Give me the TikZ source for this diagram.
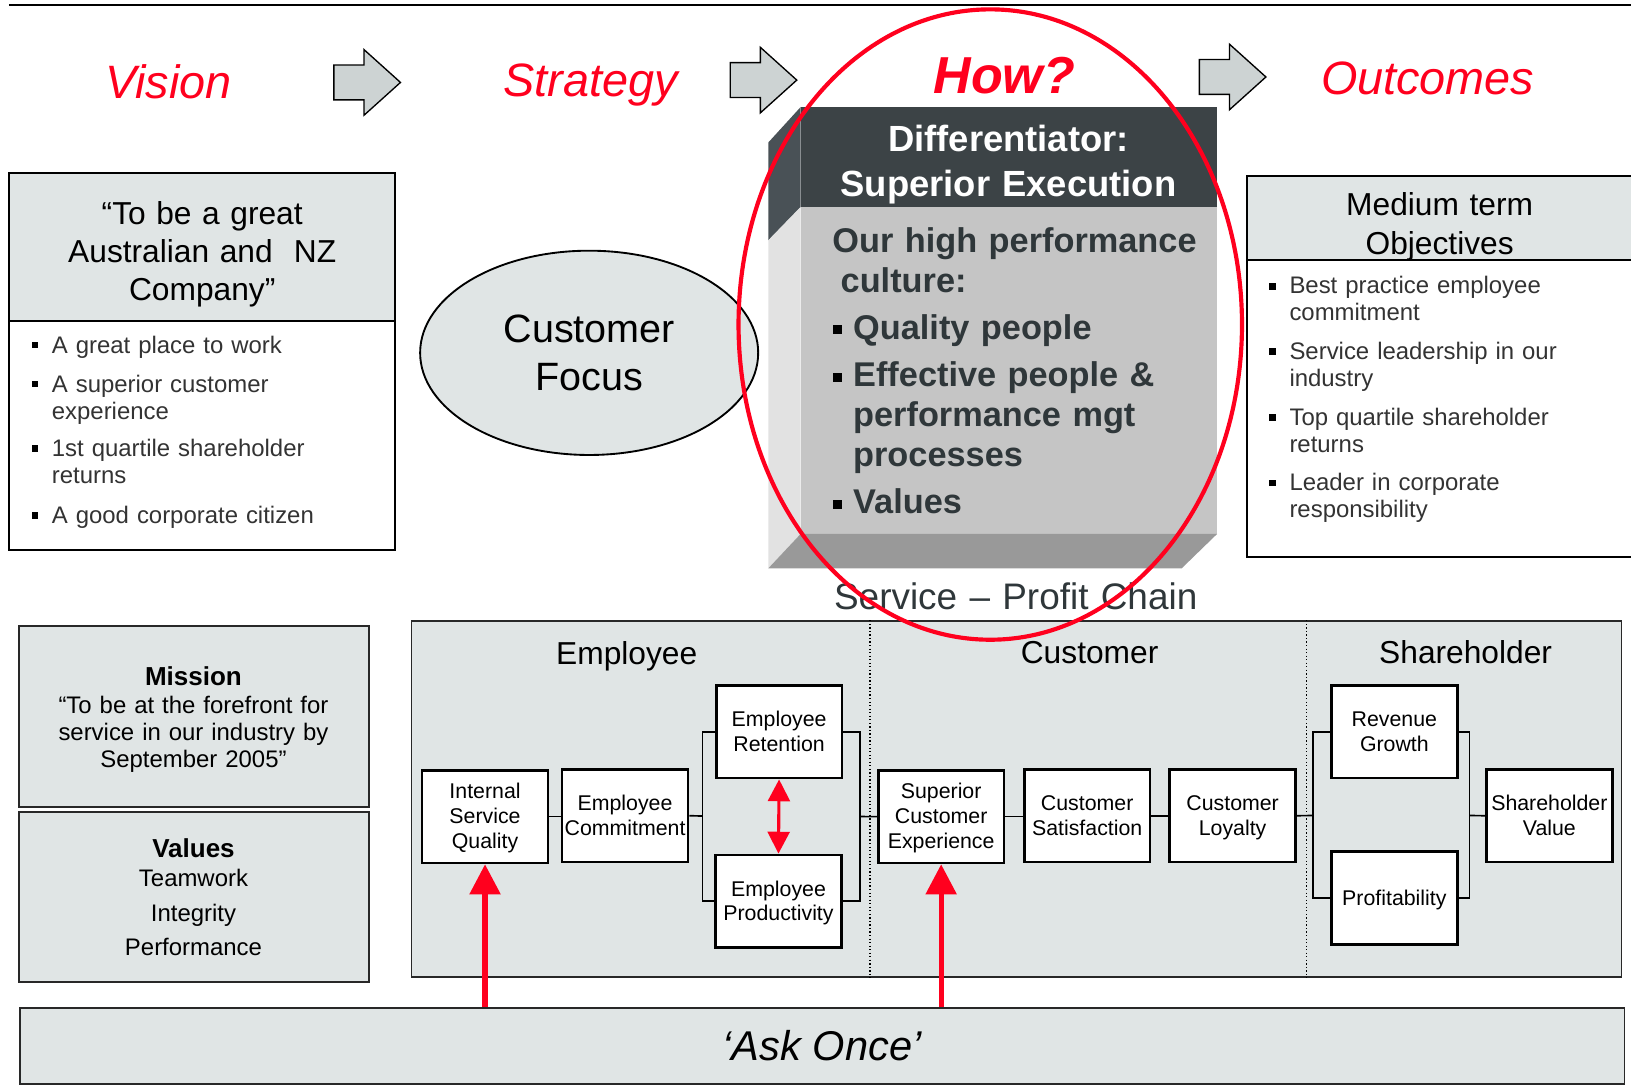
\documentclass[tikz,border=0pt]{standalone}
\usepackage{fontspec}
\setmainfont{Liberation Sans}
\usetikzlibrary{arrows.meta,shapes.geometric}

\definecolor{panel}{RGB}{224,229,229}
\definecolor{arrowfill}{RGB}{205,211,211}
\definecolor{alert}{RGB}{255,0,30}
\definecolor{slate}{RGB}{60,67,70}
\definecolor{slateside}{RGB}{73,81,86}
\definecolor{facefront}{RGB}{197,197,197}
\definecolor{faceside}{RGB}{226,226,226}
\definecolor{facebottom}{RGB}{153,153,153}
\definecolor{inktext}{RGB}{47,55,58}
\definecolor{bodytext}{RGB}{51,51,51}
\definecolor{frame}{RGB}{40,40,40}

\newcommand\fsz[2]{\fontsize{#1}{#2}\selectfont}
% square list bullet: x, baseline, size, gap above baseline
\newcommand\bul[4]{\fill (#1,#2-#4-#3) rectangle ++(#3,#3);}

\tikzset{
  x=1pt, y=-1pt,
  heading/.style={font=\fsz{45}{54}\itshape, text=alert, inner sep=0pt, anchor=base},
  txt/.style={inner sep=0pt, anchor=base, align=center, text width=#1},
  ltxt/.style={inner sep=0pt, anchor=base west, align=left, text width=#1},
  panelbox/.style={draw=frame, line width=1.8pt, fill=panel, inner sep=0pt},
  whitebox/.style={draw=black, line width=1.8pt, fill=white, inner sep=0pt},
  chainbox/.style={draw=black, line width=2.6pt, fill=white, inner sep=0pt,
    minimum width=121pt, minimum height=89pt, text width=119pt, align=center,
    font=\fsz{20.5}{24},
    execute at begin node={\rule{0pt}{19pt}},
    execute at end node={\rule[-5pt]{0pt}{5pt}}},
  link/.style={line width=1.6pt, draw=black},
  itemtext/.style={ltxt=330pt, font=\fsz{23}{26}, text=bodytext},
  bigtip/.style={-{Triangle[length=29pt,width=29pt]}},
  smalltip/.style={{Triangle[length=21pt,width=21pt]}-{Triangle[length=21pt,width=21pt]}},
  blockarrow/.pic={
    \draw[line width=1.3pt, fill=arrowfill, line join=miter]
      (0,-16.75) -- (29,-16.75) -- (29,-31.5) -- (64,0) -- (29,31.5)
      -- (29,16.75) -- (0,16.75) -- cycle;
  }
}

\begin{document}
\begin{tikzpicture}
\useasboundingbox (0,0) rectangle (1568,1044);

% top rule
\draw[line width=2.5pt] (8.5,4.8) -- (1568,4.8);

% headings and block arrows
\node[heading] (vision) at (162,94.5) {Vision};
\node[heading] (strategy) at (568,93) {Strategy};
\node[heading, font=\fsz{50}{60}\bfseries\itshape] (how) at (965.5,89.7) {How?};
\node[heading] (outcomes) at (1372.5,91.3) {Outcomes};
\pic at (321,79.25) {blockarrow};
\pic at (702,77) {blockarrow};
\pic at (1153,74) {blockarrow};

% vision box
\node[whitebox, minimum width=370.8pt, minimum height=220.2pt] (visionbody) at (194.4,418.7) {};
\node[panelbox, draw=black, minimum width=370.8pt, minimum height=142.6pt] (visionhead) at (194.4,237.3) {};
\node[txt=360pt, font=\fsz{30.5}{36.5}] (visiontxt) at (194.4,215.5)
  {“To be a great\\Australian and~~NZ\\Company”};
\node[itemtext] (v1) at (49.7,339.5) {A great place to work};
\node[itemtext] (v2) at (49.7,377) {A superior customer\\experience};
\node[itemtext] (v3) at (49.7,439) {1st quartile shareholder\\returns};
\node[itemtext] (v4) at (49.7,503) {A good corporate citizen};
\bul{30.5}{339.5}{6.5}{4.5}
\bul{30.5}{377}{6.5}{4.5}
\bul{30.5}{439}{6.5}{4.5}
\bul{30.5}{503}{6.5}{4.5}

% strategy ellipse
\node[ellipse, draw=black, line width=1.8pt, fill=panel, inner sep=0pt,
  minimum width=325pt, minimum height=196.4pt, text width=180pt, align=center,
  font=\fsz{38}{46.5}] (focus) at (566.4,339.2) {Customer\\Focus};

% differentiator block
\node[fill=slate, inner sep=0pt, minimum width=400pt, minimum height=96pt] (diffhead) at (970,151) {};
\node[fill=facefront, inner sep=0pt, minimum width=400pt, minimum height=314pt] (diffbody) at (970,356) {};
\fill[slateside] (738.6,137) -- (diffhead.north west) -- (diffhead.south west) -- (738.6,231) -- cycle;
\fill[faceside] (738.6,231) -- (diffbody.north west) -- (diffbody.south west) -- (738.6,546.4) -- cycle;
\fill[facebottom] (diffbody.south west) -- (diffbody.south east) -- (1136,546.4) -- (738.6,546.4) -- cycle;
\node[txt=400pt, font=\fsz{35}{43}\bfseries, text=white] (difftitle) at (969.5,146)
  {Differentiator:\\Superior Execution};
\node[ltxt=380pt, font=\fsz{33}{38}\bfseries, text=inktext] (culture) at (800,243)
  {Our high performance\\\hspace*{8pt}culture:};
\node[ltxt=340pt, font=\fsz{33}{38}\bfseries, text=inktext] (q1) at (820,326) {Quality people};
\node[ltxt=340pt, font=\fsz{33}{38}\bfseries, text=inktext] (q2) at (820,372)
  {Effective people \&\\performance mgt\\processes};
\node[ltxt=340pt, font=\fsz{33}{38}\bfseries, text=inktext] (q3) at (820,494) {Values};
\bul{801}{326}{8.5}{5}
\bul{801}{372}{8.5}{5}
\bul{801}{494}{8.5}{5}

% outcomes box
\node[whitebox, minimum width=381.4pt, minimum height=285.6pt] (outbody) at (1389.3,392.8) {};
\node[panelbox, draw=black, minimum width=381.4pt, minimum height=81pt] (outhead) at (1389.3,209.5) {};
\node[txt=360pt, font=\fsz{30.5}{37.5}] (outtxt) at (1384,207.5) {Medium term\\Objectives};
\node[itemtext] (o1) at (1239.5,282.5) {Best practice employee\\commitment};
\node[itemtext] (o2) at (1239.5,345.5) {Service leadership in our\\industry};
\node[itemtext] (o3) at (1239.5,408.6) {Top quartile shareholder\\returns};
\node[itemtext] (o4) at (1239.5,471.5) {Leader in corporate\\responsibility};
\bul{1220}{282.5}{6.5}{4}
\bul{1220}{345.5}{6.5}{4}
\bul{1220}{408.6}{6.5}{4}
\bul{1220}{471.5}{6.5}{4}

% mission and values
\node[panelbox, minimum width=336.7pt, minimum height=174pt] (mission) at (186.65,688.5) {};
\node[panelbox, minimum width=336.7pt, minimum height=163.3pt] (values) at (186.65,862.35) {};
\node[txt=330pt, font=\fsz{25}{30}\bfseries] (missionhd) at (186,658.6) {Mission};
\node[txt=330pt, font=\fsz{23}{26}] (missiontxt) at (186,686)
  {“To be at the forefront for\\service in our industry by\\September 2005”};
\node[txt=330pt, font=\fsz{25}{30}\bfseries] (valueshd) at (186,824) {Values};
\node[txt=330pt, font=\fsz{23}{33.2}] (valuestxt) at (186,852.4)
  {Teamwork\\Integrity\\Performance};

% service-profit chain
\node[txt=500pt, font=\fsz{35.5}{40}, text=inktext] (spc) at (976.5,586.4) {Service – Profit Chain};
\node[draw=frame, line width=1.5pt, fill=panel, inner sep=0pt,
  minimum width=1163.2pt, minimum height=342.3pt] (chain) at (977.4,768.15) {};
\coordinate (d1) at (836.4,700);
\coordinate (d2) at (1256,700);
\draw[line width=1.2pt, dash pattern=on 1.2pt off 2.2pt] (chain.north -| d1) -- (chain.south -| d1);
\draw[line width=1.2pt, dash pattern=on 1.2pt off 2.2pt] (chain.north -| d2) -- (chain.south -| d2);
\node[txt=300pt, font=\fsz{30.5}{36}] (emp) at (602.5,638.4) {Employee};
\node[txt=300pt, font=\fsz{30.5}{36}] (cus) at (1047.5,637.7) {Customer};
\node[txt=300pt, font=\fsz{30.5}{36}] (sha) at (1409,638) {Shareholder};

\node[chainbox] (isq) at (466.3,785.1) {Internal\\Service\\Quality};
\node[chainbox] (ec) at (600.9,784.2) {Employee\\Commitment};
\node[chainbox] (er) at (749,703.5) {Employee\\Retention};
\node[chainbox] (ep) at (748.4,866.4) {Employee\\Productivity};
\node[chainbox] (sce) at (904.8,785.1) {Superior\\Customer\\Experience};
\node[chainbox] (cs) at (1045.2,784.2) {Customer\\Satisfaction};
\node[chainbox] (cl) at (1185,784.2) {Customer\\Loyalty};
\node[chainbox] (rg) at (1340.5,703.5) {Revenue\\Growth};
\node[chainbox] (prof) at (1340.5,863.2) {Profitability};
\node[chainbox] (sv) at (1489.5,784.2) {Shareholder\\Value};

\coordinate (b1) at (675.5,784.5);
\coordinate (b2) at (826.8,785);
\coordinate (b3) at (1262.5,784);
\coordinate (b4) at (1412.8,784);
\draw[link] (isq.east) -- (isq.east -| ec.west);
\draw[link] (ec.east) -- (b1);
\draw[link] (er.west) -| (b1) |- (ep.west);
\draw[link] (er.east) -| (b2) |- (ep.east);
\draw[link] (b2) -- (sce.west);
\draw[link] (sce.east) -- (sce.east -| cs.west);
\draw[link] (cs.east) -- (cs.east -| cl.west);
\draw[link] (cl.east) -- (b3);
\draw[link] (rg.west) -| (b3) |- (prof.west);
\draw[link] (rg.east) -| (b4) |- (prof.east);
\draw[link] (b4) -- (sv.west);

\draw[alert, line width=3pt, smalltip] (er.south) -- (ep.north);

% ask once bar
\node[panelbox, minimum width=1542.7pt, minimum height=73.3pt,
  font=\fsz{40}{48}\itshape] (ask) at (790.4,1005.4) {‘Ask Once’};
\draw[alert, line width=5pt, bigtip] (ask.north -| isq.south) -- (isq.south);
\draw[alert, line width=5pt, bigtip] (ask.north -| sce.south) -- (sce.south);

% highlight ring
\draw[alert, line width=4pt] (952,312) ellipse [x radius=242pt, y radius=303pt];
\end{tikzpicture}
\end{document}
